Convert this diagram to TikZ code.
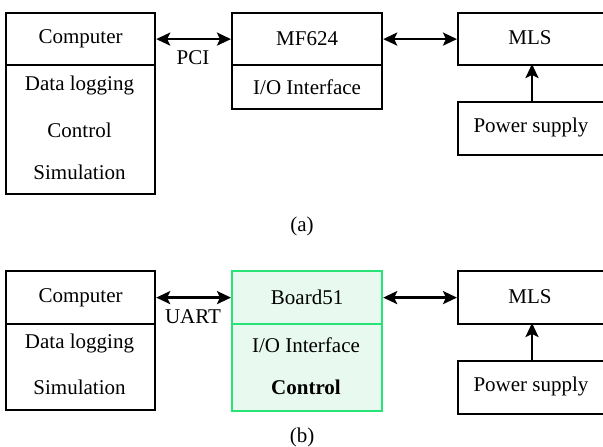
\documentclass[tikz,border=0pt]{standalone}
\usepackage{fontspec}
\setmainfont{Liberation Serif}[Ligatures=TeX]
\usetikzlibrary{arrows.meta}
\definecolor{gborder}{RGB}{40,228,118}
\definecolor{gfill}{RGB}{232,250,239}
\tikzset{
  box/.style={draw, line width=2.2pt, rectangle, anchor=north west, inner sep=0pt},
  gbox/.style={box, draw=gborder, fill=gfill},
  lbl/.style={font=\rmfamily\fontsize{21}{23}\selectfont, inner sep=0pt},
  tip/.tip={Stealth[length=14pt,width=13pt,inset=3pt]},
  conn/.style={line width=2.5pt, {tip}-{tip}},
  oneway/.style={line width=2.5pt, -{tip}}
}
\begin{document}
\begin{tikzpicture}[x=1pt,y=-1pt]
\useasboundingbox (0,0) rectangle (603,447);
\clip (0,0) rectangle (603,447);
% ---------- (a) ----------
\node[box, minimum width=149pt, minimum height=52pt] (comp) at (5,12) {};
\node[lbl] (compT) at (comp.center) {Computer};
\node[box, minimum width=149pt, minimum height=129pt] (compL) at (5,64) {};
\node[lbl] (dl) at (79.5,85) {Data logging};
\node[lbl] (ctl) at (79.5,130) {Control};
\node[lbl] (sim) at (79.5,172) {Simulation};

\node[box, minimum width=150pt, minimum height=52pt] (mf) at (231,12) {};
\node[lbl] (mfT) at (mf.center) {MF624};
\node[box, minimum width=150pt, minimum height=44pt] (mfio) at (231,64) {};
\node[lbl] (mfioT) at (mfio.center) {I/O Interface};

\node[box, minimum width=150pt, minimum height=52pt] (mls) at (457,12) {};
\node[lbl] (mlsT) at (530,38) {MLS};
\node[box, minimum width=150pt, minimum height=53pt] (ps) at (457,101) {};
\node[lbl] (psT) at (531,127) {Power supply};

\coordinate (psTop) at (532,101);
\coordinate (mlsBot) at (532,64);
\draw[conn] (comp.east) -- (mf.west);
\draw[conn] (mf.east) -- (mls.west);
\draw[oneway] (psTop) -- (mlsBot);
\node[lbl] (pci) at (193,58) {PCI};
\node[lbl] (capa) at (302,226) {(a)};

% ---------- (b) ----------
\node[box, minimum width=149pt, minimum height=53pt] (comp2) at (5,270) {};
\node[lbl] (comp2T) at (comp2.center) {Computer};
\node[box, minimum width=149pt, minimum height=86pt] (comp2L) at (5,323) {};
\node[lbl] (dl2) at (79.5,343) {Data logging};
\node[lbl] (sim2) at (79.5,387) {Simulation};

\node[gbox, minimum width=150pt, minimum height=140pt] (bfill) at (231,270) {};
\node[gbox, minimum width=150pt, minimum height=53pt] (board) at (231,270) {};
\node[lbl] (boardT) at (board.center) {Board51};
\node[gbox, minimum width=150pt, minimum height=87pt] (boardio) at (231,323) {};
\node[lbl] (ioT) at (306,345) {I/O Interface};
\node[lbl] (ctl2) at (306,387) {\bfseries Control};

\node[box, minimum width=150pt, minimum height=53pt] (mls2) at (457,270) {};
\node[lbl] (mls2T) at (530,297) {MLS};
\node[box, minimum width=150pt, minimum height=53pt] (ps2) at (457,360) {};
\node[lbl] (ps2T) at (531,386) {Power supply};

\coordinate (ps2Top) at (532,360);
\coordinate (mls2Bot) at (532,323);
\draw[conn] (comp2.east) -- (board.west);
\draw[conn] (board.east) -- (mls2.west);
\draw[oneway] (ps2Top) -- (mls2Bot);
\node[lbl] (uart) at (193,317) {UART};
\node[lbl] (capb) at (302,437) {(b)};
\end{tikzpicture}
\end{document}
